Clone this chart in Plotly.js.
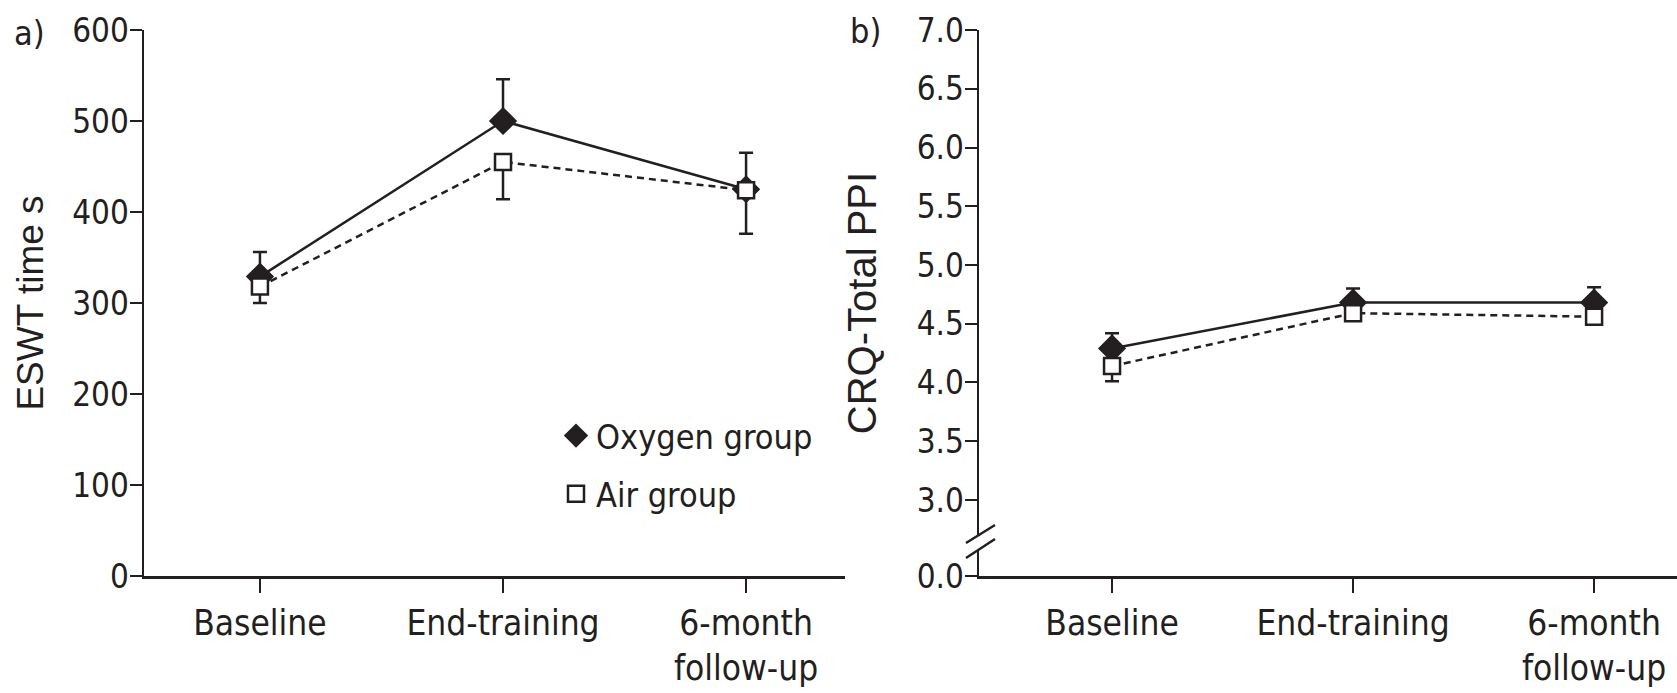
<!DOCTYPE html>
<html>
<head>
<meta charset="utf-8">
<script src="https://cdn.plot.ly/plotly-3.0.1.min.js"></script>
<style>html,body{margin:0;padding:0;background:#fff;}#chart{width:1677px;height:693px;}</style>
</head>
<body>
<div id="chart"></div>
<script>
// ---- data ----
var categories = ['Baseline', 'End-training', '6-month<br>follow-up'];
var eswtOxygen = [329, 500, 425];
var eswtOxygenErr = [27, 46, 40];
var eswtAir = [318, 455, 424];
var eswtAirErr = [18, 41, 48];
var crqOxygen = [4.29, 4.68, 4.68];
var crqOxygenErr = [0.13, 0.12, 0.13];
var crqAir = [4.14, 4.59, 4.56];
var crqAirErr = [0.13, 0.05, 0.05];
var eswtTicks = [0, 100, 200, 300, 400, 500, 600];
var crqTickLabels = ['0.0', '3.0', '3.5', '4.0', '4.5', '5.0', '5.5', '6.0', '6.5', '7.0'];
var crqBreakPos = 2.353; // where the "0.0" label sits on the broken axis
var crqTickVals = [crqBreakPos, 3.0, 3.5, 4.0, 4.5, 5.0, 5.5, 6.0, 6.5, 7.0];

var xIdx = categories.map(function (c, i) { return i; });
var ink = '#231f20';
var narrow = 'Liberation Sans Narrow, DejaVu Sans Condensed, Roboto, sans-serif';
var W = 1677, H = 693;
function px(x) { return x / W; }
function py(y) { return (H - y) / H; }

function lineTrace(y, xa, ya, dash, grp) {
  return { x: xIdx, y: y, xaxis: xa, yaxis: ya, mode: 'lines', showlegend: false,
    line: { color: ink, width: 2.5, dash: dash }, hoverinfo: 'skip', legendgroup: grp };
}
function markTrace(y, err, up, xa, ya, name, sym, fill, size, show) {
  return { x: xIdx, y: y, xaxis: xa, yaxis: ya, mode: 'markers', name: name, showlegend: show,
    legendgroup: name,
    marker: { symbol: sym, size: size, color: fill, line: { color: ink, width: 2.5 } },
    error_y: { type: 'data', symmetric: false, array: up ? err : err.map(function () { return 0; }),
      arrayminus: up ? err.map(function () { return 0; }) : err,
      color: ink, thickness: 2.5, width: 7 } };
}

var data = [
  lineTrace(eswtOxygen, 'x', 'y', 'solid', 'Oxygen group'),
  lineTrace(eswtAir, 'x', 'y', '7px,5px', 'Air group'),
  lineTrace(crqOxygen, 'x2', 'y2', 'solid', 'Oxygen group'),
  lineTrace(crqAir, 'x2', 'y2', '7px,5px', 'Air group'),
  markTrace(eswtOxygen, eswtOxygenErr, true, 'x', 'y', 'Oxygen group', 'diamond', ink, 19, true),
  markTrace(crqOxygen, crqOxygenErr, true, 'x2', 'y2', 'Oxygen group', 'diamond', ink, 19, false),
  markTrace(eswtAir, eswtAirErr, false, 'x', 'y', 'Air group', 'square', '#ffffff', 16, true),
  markTrace(crqAir, crqAirErr, false, 'x2', 'y2', 'Air group', 'square', '#ffffff', 16, false)
];

var axisCommon = { showgrid: false, zeroline: false, showline: true, linecolor: ink, linewidth: 2.5,
  ticks: 'outside', tickcolor: ink, tickwidth: 2, fixedrange: true };

var layout = {
  width: W, height: H, margin: { l: 0, r: 0, t: 0, b: 0 },
  paper_bgcolor: '#fff', plot_bgcolor: 'rgba(0,0,0,0)',
  font: { family: narrow, color: ink, size: 34 },
  showlegend: true,
  legend: { x: px(556), y: py(407), xanchor: 'left', yanchor: 'top', bgcolor: 'rgba(0,0,0,0)',
    font: { family: narrow, size: 34, color: ink }, traceorder: 'grouped', tracegroupgap: 11 },
  xaxis: Object.assign({}, axisCommon, { domain: [px(144), px(845)], range: [-0.477, 2.407],
    tickvals: xIdx, ticktext: categories, ticklen: 14, tickfont: { family: narrow, size: 35, color: ink },
    anchor: 'y' }),
  yaxis: Object.assign({}, axisCommon, { domain: [py(576), py(30)], range: [0, 600],
    tickvals: eswtTicks, ticklen: 12, ticklabelstandoff: -6, tickfont: { family: narrow, size: 33, color: ink },
    title: { text: 'ESWT time s', font: { family: 'Liberation Sans, Arial, sans-serif', size: 37, color: ink }, standoff: 18 },
    anchor: 'x' }),
  xaxis2: Object.assign({}, axisCommon, { domain: [px(979), 1], range: [-0.552, 2.344],
    tickvals: xIdx, ticktext: categories, ticklen: 14, tickfont: { family: narrow, size: 35, color: ink },
    anchor: 'y2' }),
  yaxis2: Object.assign({}, axisCommon, { domain: [py(576), py(30)], range: [crqBreakPos, 7.0],
    tickvals: crqTickVals, ticktext: crqTickLabels, ticklen: 12, ticklabelstandoff: -6, tickfont: { family: narrow, size: 33, color: ink },
    title: { text: 'CRQ-Total PPI', font: { family: 'Liberation Sans, Arial, sans-serif', size: 40, color: ink }, standoff: 28 },
    anchor: 'x2' }),
  annotations: [
    { text: 'a)', xref: 'paper', yref: 'paper', x: px(12), y: py(33), xanchor: 'left', yanchor: 'middle',
      showarrow: false, font: { family: narrow, size: 34, color: ink } },
    { text: 'b)', xref: 'paper', yref: 'paper', x: px(848), y: py(31), xanchor: 'left', yanchor: 'middle',
      showarrow: false, font: { family: narrow, size: 34, color: ink } }
  ],
  shapes: [
    { type: 'path', xref: 'paper', yref: 'paper', layer: 'above',
      path: 'M ' + px(968) + ',' + py(542) + ' L ' + px(993) + ',' + py(526) + ' L ' + px(993) + ',' + py(540) + ' L ' + px(968) + ',' + py(557) + ' Z',
      fillcolor: '#ffffff', line: { width: 0 } },
    { type: 'line', xref: 'paper', yref: 'paper', layer: 'above', x0: px(966), y0: py(543), x1: px(995), y1: py(525),
      line: { color: ink, width: 2.5 } },
    { type: 'line', xref: 'paper', yref: 'paper', layer: 'above', x0: px(966), y0: py(558), x1: px(995), y1: py(539),
      line: { color: ink, width: 2.5 } }
  ]
};

Plotly.newPlot('chart', data, layout, { staticPlot: true, displayModeBar: false });
</script>
</body>
</html>
